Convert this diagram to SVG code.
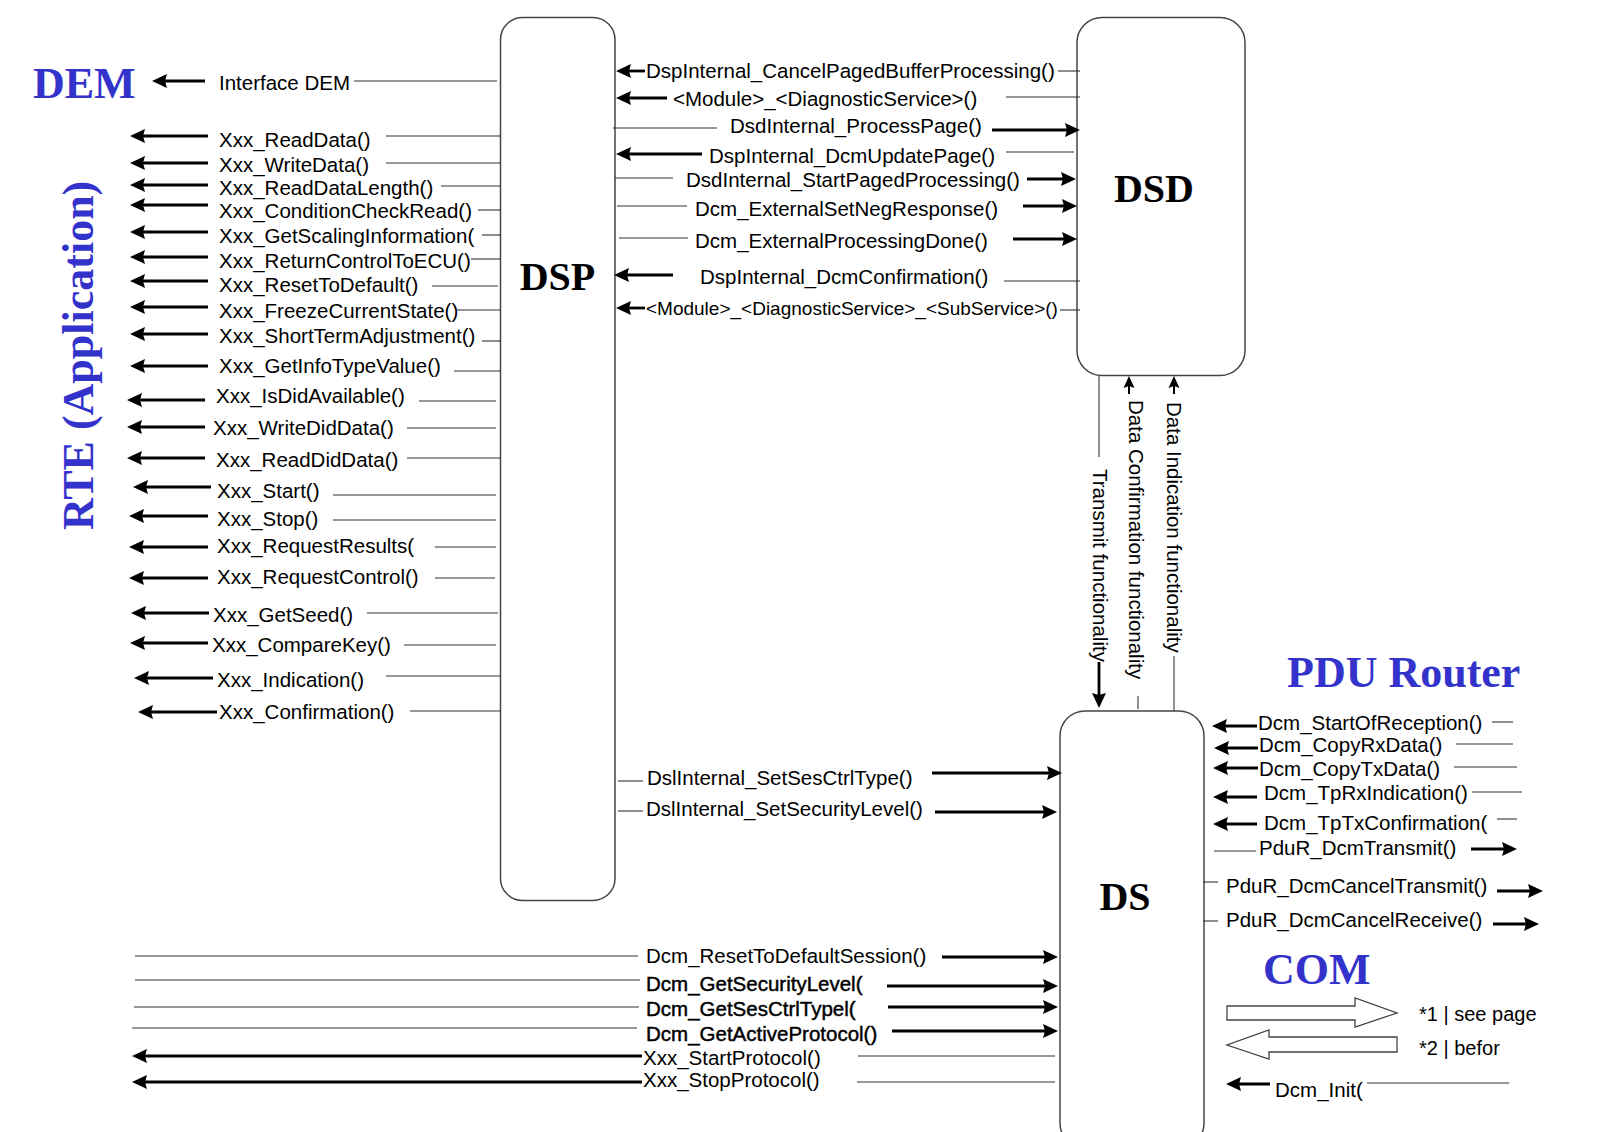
<svg xmlns="http://www.w3.org/2000/svg" width="1598" height="1132" viewBox="0 0 1598 1132">
  <style>
    .t { font-family: "Liberation Sans", Arial, sans-serif; font-size: 20.5px; fill: #000; }
    .ts { font-size: 19px; }
    .hv { stroke: #000; stroke-width: 0.45; }
    .big { font-family: "Liberation Serif", "Times New Roman", serif; font-weight: bold; font-size: 44px; fill: #3333CC; }
    .box { fill: #fff; stroke: #444; stroke-width: 1.5; }
    .bl { font-family: "Liberation Serif", "Times New Roman", serif; font-weight: bold; font-size: 40px; fill: #000; text-anchor: middle; }
    .th { stroke: #333; stroke-width: 1.1; fill: none; }
    .ar { stroke: #000; stroke-width: 2.8; fill: none; marker-end: url(#ah); }
    .au { stroke: #000; stroke-width: 2; fill: none; marker-end: url(#ahs); }
    .blk { fill: #fff; stroke: #444; stroke-width: 1.3; }
  </style>
  <defs>
    <marker id="ah" viewBox="-9 -8 17 16" refX="0" refY="0" markerWidth="17" markerHeight="16" markerUnits="userSpaceOnUse" orient="auto">
      <path d="M7,0 L-8,-7 L-6,0 L-8,7 Z" fill="#000"/>
    </marker>
    <marker id="ahs" viewBox="-8 -7 14 14" refX="0" refY="0" markerWidth="14" markerHeight="14" markerUnits="userSpaceOnUse" orient="auto">
      <path d="M5,0 L-7,-5.5 L-5,0 L-7,5.5 Z" fill="#000"/>
    </marker>
  </defs>
  <rect width="1598" height="1132" fill="#fff"/>

  <!-- layer names -->
  <g id="node-dem"><text class="big" x="33" y="98">DEM</text></g>
  <g id="node-rte"><text class="big" transform="translate(93,530) rotate(-90)">RTE (Application)</text></g>
  <g id="node-pdur"><text class="big" x="1287" y="687">PDU Router</text></g>
  <g id="node-com"><text class="big" x="1263" y="984">COM</text></g>

  <!-- modules -->
  <g id="node-dsp">
    <rect class="box" x="500.5" y="17.5" width="114.5" height="883" rx="22"/>
    <text class="bl" x="557.5" y="290">DSP</text>
  </g>
  <g id="node-dsd">
    <rect class="box" x="1077" y="17.5" width="168" height="358" rx="25"/>
    <text class="bl" x="1154" y="202">DSD</text>
  </g>
  <g id="node-ds">
    <rect class="box" x="1060" y="711" width="144" height="437" rx="25"/>
    <text class="bl" x="1125" y="910">DS</text>
  </g>

  <g id="connectors">
    <!-- DSP to DEM / RTE -->
    <path class="ar" d="M205,81 H159"/>
    <path class="th" d="M354,81 H497"/>
    <path class="ar" d="M208,136 H137"/><path class="th" d="M386,136 H501"/>
    <path class="ar" d="M208,163 H137"/><path class="th" d="M386,163 H501"/>
    <path class="ar" d="M208,185 H137"/><path class="th" d="M441,186 H501"/>
    <path class="ar" d="M208,205 H137"/><path class="th" d="M478,210 H501"/>
    <path class="ar" d="M208,232 H137"/><path class="th" d="M482,235 H501"/>
    <path class="ar" d="M208,257 H137"/><path class="th" d="M471,259 H500"/>
    <path class="ar" d="M208,281 H137"/><path class="th" d="M432,286 H498"/>
    <path class="ar" d="M208,307 H137"/><path class="th" d="M457,310 H500"/>
    <path class="ar" d="M208,334 H137"/><path class="th" d="M482,341 H501"/>
    <path class="ar" d="M208,366 H137"/><path class="th" d="M454,371 H501"/>
    <path class="ar" d="M205,400 H134"/><path class="th" d="M419,401 H496"/>
    <path class="ar" d="M205,427 H134"/><path class="th" d="M407,428 H496"/>
    <path class="ar" d="M205,458 H134"/><path class="th" d="M407,458 H501"/>
    <path class="ar" d="M211,487 H140"/><path class="th" d="M333,495 H496"/>
    <path class="ar" d="M208,516 H136"/><path class="th" d="M333,520 H496"/>
    <path class="ar" d="M208,547 H136"/><path class="th" d="M435,547 H496"/>
    <path class="ar" d="M208,578 H136"/><path class="th" d="M435,578 H495"/>
    <path class="ar" d="M209,613 H138"/><path class="th" d="M367,613 H498"/>
    <path class="ar" d="M208,643 H137"/><path class="th" d="M404,645 H496"/>
    <path class="ar" d="M213,678 H141"/><path class="th" d="M386,676 H501"/>
    <path class="ar" d="M217,712 H145"/><path class="th" d="M410,711 H501"/>

    <!-- DSP <-> DSD -->
    <path class="ar" d="M645,71 H623"/><path class="th" d="M1058,71 H1080"/>
    <path class="ar" d="M667,98 H623"/><path class="th" d="M1006,97 H1080"/>
    <path class="th" d="M613,128 H717"/><path class="ar" d="M992,130 H1073"/>
    <path class="ar" d="M702,154 H623"/><path class="th" d="M1006,152 H1074"/>
    <path class="th" d="M615,178 H673"/><path class="ar" d="M1027,179 H1069"/>
    <path class="th" d="M617,206 H687"/><path class="ar" d="M1023,206 H1070"/>
    <path class="th" d="M619,238 H688"/><path class="ar" d="M1013,239 H1070"/>
    <path class="ar" d="M673,275 H621"/><path class="th" d="M1004,281 H1080"/>
    <path class="ar" d="M645,308 H623"/><path class="th" d="M1060,310 H1080"/>

    <!-- DSD <-> DS -->
    <path class="th" d="M1099,376 V457"/>
    <path class="ar" d="M1099,662 V701"/>
    <path class="au" d="M1129,394 V381"/>
    <path class="th" d="M1138,696 V709"/>
    <path class="au" d="M1174,394 V381"/>
    <path class="th" d="M1174,656 V711"/>

    <!-- DSP -> DS -->
    <path class="th" d="M618,781 H643"/><path class="ar" d="M932,773 H1055"/>
    <path class="th" d="M618,811 H643"/><path class="ar" d="M935,812 H1050"/>

    <!-- RTE <-> DS -->
    <path class="th" d="M135,956 H638"/><path class="ar" d="M942,957 H1051"/>
    <path class="th" d="M135,980 H640"/><path class="ar" d="M887,986 H1051"/>
    <path class="th" d="M134,1007 H639"/><path class="ar" d="M888,1007 H1051"/>
    <path class="th" d="M132,1028 H637"/><path class="ar" d="M892,1031 H1051"/>
    <path class="ar" d="M642,1056 H139"/><path class="th" d="M858,1056 H1055"/>
    <path class="ar" d="M642,1082 H139"/><path class="th" d="M857,1082 H1055"/>

    <!-- PDU Router <-> DS -->
    <path class="ar" d="M1257,726 H1219"/><path class="th" d="M1492,722 H1513"/>
    <path class="ar" d="M1258,748 H1221"/><path class="th" d="M1456,744 H1513"/>
    <path class="ar" d="M1258,768 H1220"/><path class="th" d="M1454,767 H1517"/>
    <path class="ar" d="M1257,797 H1220"/><path class="th" d="M1472,792 H1522"/>
    <path class="ar" d="M1257,824 H1220"/><path class="th" d="M1497,819 H1517"/>
    <path class="th" d="M1214,851 H1256"/><path class="ar" d="M1471,849 H1510"/>
    <path class="th" d="M1203,882 H1218"/><path class="ar" d="M1497,891 H1536"/>
    <path class="th" d="M1203,921 H1218"/><path class="ar" d="M1493,924 H1532"/>

    <!-- COM -> DS -->
    <path class="ar" d="M1270,1084 H1233"/><path class="th" d="M1367,1083 H1509"/>
  </g>

  <g id="labels" class="t">
    <text x="219" y="90">Interface DEM</text>
    <text x="219" y="147">Xxx_ReadData()</text>
    <text x="219" y="172">Xxx_WriteData()</text>
    <text x="219" y="195">Xxx_ReadDataLength()</text>
    <text x="219" y="218">Xxx_ConditionCheckRead()</text>
    <text x="219" y="243">Xxx_GetScalingInformation(</text>
    <text x="219" y="268">Xxx_ReturnControlToECU()</text>
    <text x="219" y="292">Xxx_ResetToDefault()</text>
    <text x="219" y="318">Xxx_FreezeCurrentState()</text>
    <text x="219" y="343">Xxx_ShortTermAdjustment()</text>
    <text x="219" y="373">Xxx_GetInfoTypeValue()</text>
    <text x="216" y="403">Xxx_IsDidAvailable()</text>
    <text x="213" y="435">Xxx_WriteDidData()</text>
    <text x="216" y="467">Xxx_ReadDidData()</text>
    <text x="217" y="498">Xxx_Start()</text>
    <text x="217" y="526">Xxx_Stop()</text>
    <text x="217" y="553">Xxx_RequestResults(</text>
    <text x="217" y="584">Xxx_RequestControl()</text>
    <text x="213" y="622">Xxx_GetSeed()</text>
    <text x="212" y="652">Xxx_CompareKey()</text>
    <text x="217" y="687">Xxx_Indication()</text>
    <text x="219" y="719">Xxx_Confirmation()</text>

    <text x="646" y="78">DspInternal_CancelPagedBufferProcessing()</text>
    <text x="673" y="106">&lt;Module&gt;_&lt;DiagnosticService&gt;()</text>
    <text x="730" y="133">DsdInternal_ProcessPage()</text>
    <text x="709" y="163">DspInternal_DcmUpdatePage()</text>
    <text x="686" y="187">DsdInternal_StartPagedProcessing()</text>
    <text x="695" y="216">Dcm_ExternalSetNegResponse()</text>
    <text x="695" y="248">Dcm_ExternalProcessingDone()</text>
    <text x="700" y="284">DspInternal_DcmConfirmation()</text>
    <text class="ts" x="646" y="315">&lt;Module&gt;_&lt;DiagnosticService&gt;_&lt;SubService&gt;()</text>

    <text transform="translate(1093,469) rotate(90)">Transmit functionality</text>
    <text transform="translate(1129,400) rotate(90)">Data Confirmation functionality</text>
    <text transform="translate(1167,402) rotate(90)">Data Indication functionality</text>

    <text x="647" y="785">DslInternal_SetSesCtrlType()</text>
    <text x="646" y="816">DslInternal_SetSecurityLevel()</text>

    <text x="646" y="963">Dcm_ResetToDefaultSession()</text>
    <text class="hv" x="646" y="991">Dcm_GetSecurityLevel(</text>
    <text class="hv" x="646" y="1016">Dcm_GetSesCtrlTypel(</text>
    <text class="hv" x="646" y="1041">Dcm_GetActiveProtocol()</text>
    <text x="643" y="1065">Xxx_StartProtocol()</text>
    <text x="643" y="1087">Xxx_StopProtocol()</text>

    <text x="1258" y="730">Dcm_StartOfReception()</text>
    <text x="1259" y="752">Dcm_CopyRxData()</text>
    <text x="1259" y="776">Dcm_CopyTxData()</text>
    <text x="1264" y="800">Dcm_TpRxIndication()</text>
    <text x="1264" y="830">Dcm_TpTxConfirmation(</text>
    <text x="1259" y="855">PduR_DcmTransmit()</text>
    <text x="1226" y="893">PduR_DcmCancelTransmit()</text>
    <text x="1226" y="927">PduR_DcmCancelReceive()</text>
    <text x="1275" y="1097">Dcm_Init(</text>
  </g>

  <!-- legend: outlined block arrows -->
  <g id="legend">
    <polygon class="blk" points="1227,1006 1355,1006 1355,998 1397,1013 1355,1027 1355,1020 1227,1020"/>
    <polygon class="blk" points="1397,1037 1269,1037 1269,1030 1227,1045 1269,1059 1269,1052 1397,1052"/>
    <text class="t" style="font-size:20px" x="1419" y="1021">*1 | see page</text>
    <text class="t" style="font-size:20px" x="1419" y="1055">*2 | befor</text>
  </g>
</svg>
